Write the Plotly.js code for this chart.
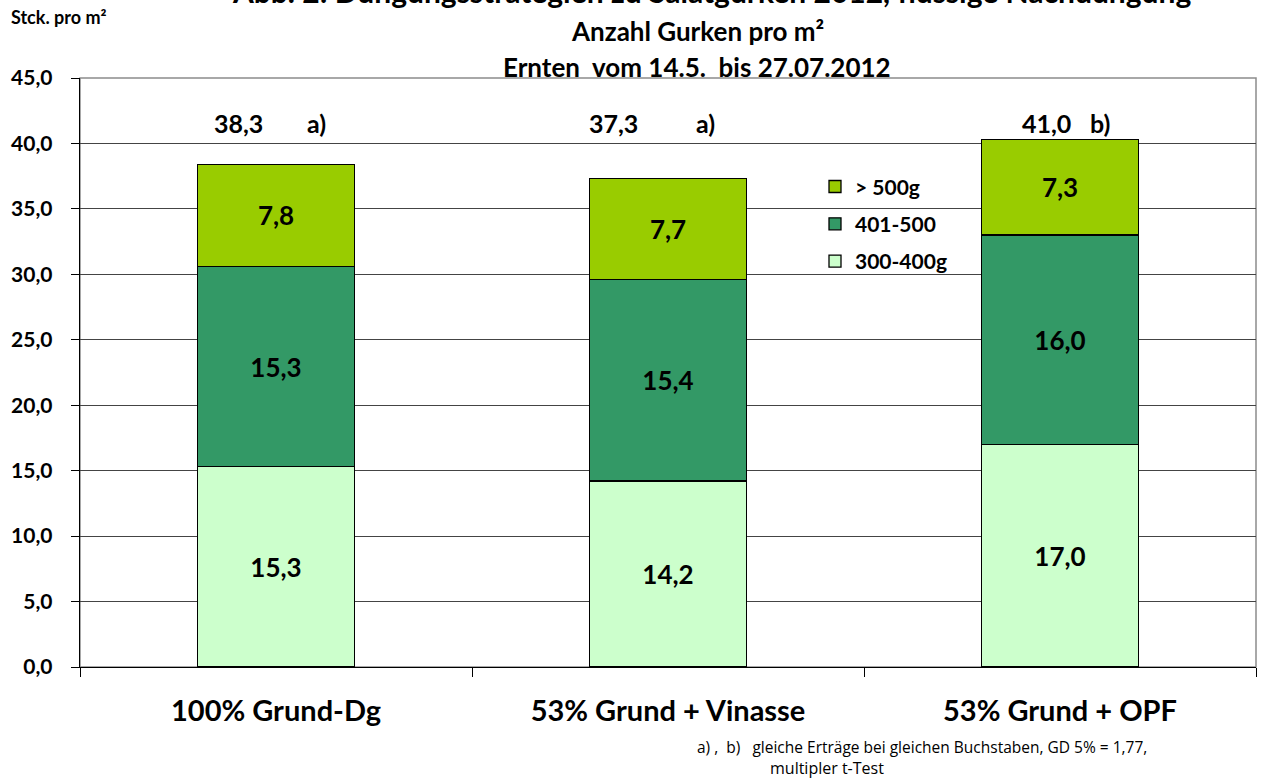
<!DOCTYPE html>
<html>
<head>
<meta charset="utf-8">
<script src="https://cdn.plot.ly/plotly-3.0.1.min.js"></script>
<style>html,body{margin:0;padding:0;background:#fff;}#chart{width:1261px;height:778px;}</style>
</head>
<body>
<div id="chart"></div>
<script>
const categories = ["100% Grund-Dg", "53% Grund + Vinasse", "53% Grund + OPF"];
const seriesNames = ["300-400g", "401-500", "> 500g"];
const small = [15.3, 14.2, 17.0];
const medium = [15.3, 15.4, 16.0];
const large = [7.8, 7.7, 7.3];
const totals = ["38,3", "37,3", "41,0"];
const letters = ["a)", "a)", "b)"];
const yTicks = [0, 5, 10, 15, 20, 25, 30, 35, 40, 45];
const colors = ["#ccffcc", "#339966", "#99cc00"];

// label offsets (px) for the total / letter annotations
const totalShift = [-38, -55, -14];
const letterShift = [40, 37, 40];

const F = "Lato, 'Open Sans', sans-serif";
const seriesData = [small, medium, large];

const traces = seriesData.map((vals, i) => ({
  type: "bar",
  x: categories,
  y: vals,
  name: seriesNames[i],
  legendgroup: "g" + i,
  legendrank: 1000 - i,
  marker: {color: colors[i], line: {color: "#000", width: 1.3}},
  texttemplate: "<b>%{y:.1f}</b>",
  textposition: "inside",
  insidetextanchor: "middle",
  textangle: 0,
  constraintext: "none",
  insidetextfont: {family: F, size: 26, color: "#000"},
  hoverinfo: "skip"
}));

const annotations = [];
const totalY = 41.6;
categories.forEach((c, i) => {
  annotations.push({x: c, y: totalY, xref: "x", yref: "y", text: "<b>" + totals[i] + "</b>",
    showarrow: false, xshift: totalShift[i], font: {family: F, size: 25, color: "#000"}});
  annotations.push({x: c, y: totalY, xref: "x", yref: "y", text: "<b>" + letters[i] + "</b>",
    showarrow: false, xshift: letterShift[i], font: {family: F, size: 25, color: "#000"}});
});
// titles
const title1 = "Abb. 2: Düngungsstrategien zu Salatgurken 2012, flüssige Nachdüngung";
const title2 = "Anzahl Gurken pro m²";
const title3 = "Ernten  vom 14.5.  bis 27.07.2012";
annotations.push({xref: "paper", yref: "paper", x: 0.537, y: 1.147, text: "<b>" + title1 + "</b>", showarrow: false,
  font: {family: F, size: 30, color: "#000"}, yanchor: "middle"});
annotations.push({xref: "paper", yref: "paper", x: 0.525, y: 1.079, text: "<b>" + title2 + "</b>", showarrow: false,
  font: {family: F, size: 26, color: "#000"}, yanchor: "middle"});
annotations.push({xref: "paper", yref: "paper", x: 0.525, y: 1.018, text: "<b>" + title3 + "</b>", showarrow: false,
  font: {family: F, size: 26, color: "#000"}, yanchor: "middle"});
// y axis unit
annotations.push({xref: "paper", yref: "paper", x: -0.060, y: 1.104, xanchor: "left", text: "<b>Stck. pro m²</b>",
  showarrow: false, font: {family: F, size: 18, color: "#000"}, yanchor: "middle"});
// footnote
annotations.push({xref: "paper", yref: "paper", x: 0.523, y: -0.135, xanchor: "left", yanchor: "middle",
  text: "a) ,  b)   gleiche Erträge bei gleichen Buchstaben, GD 5% = 1,77,", showarrow: false,
  font: {family: "'Open Sans', sans-serif", size: 15.5, color: "#000"}});
annotations.push({xref: "paper", yref: "paper", x: 0.585, y: -0.171, xanchor: "left", yanchor: "middle",
  text: "multipler t-Test", showarrow: false,
  font: {family: "'Open Sans', sans-serif", size: 16, color: "#000"}});

const layout = {
  width: 1261, height: 778,
  margin: {l: 80, r: 5, t: 78, b: 111},
  paper_bgcolor: "#fff", plot_bgcolor: "#fff",
  barmode: "stack", bargap: 0.6,
  separators: ",.",
  showlegend: true,
  legend: {x: 0.625, y: 0.85, xanchor: "left", yanchor: "top", bgcolor: "rgba(0,0,0,0)",
    traceorder: "grouped", tracegroupgap: 7, itemwidth: 30,
    font: {family: F, size: 21, color: "#000", weight: "bold"}},
  xaxis: {type: "category", tickson: "boundaries", ticks: "outside", ticklen: 9, tickcolor: "#000",
    showline: true, linecolor: "#000", linewidth: 1.3, showgrid: false,
    tickfont: {family: F, size: 29, color: "#000", weight: "bold"}, ticklabelstandoff: 18},
  yaxis: {range: [0, 45], tickvals: yTicks, tickformat: ".1f", ticks: "outside", ticklen: 8, tickcolor: "#000",
    showline: true, linecolor: "#000", linewidth: 1.3, showgrid: true, gridcolor: "#444", gridwidth: 1,
    zeroline: false, tickfont: {family: F, size: 21, color: "#000", weight: "bold"}, ticklabelstandoff: 14},
  shapes: [{type: "rect", xref: "paper", yref: "paper", x0: 0, x1: 1, y0: 0, y1: 1,
    line: {color: "#8c8c8c", width: 1.5}, layer: "below"}],
  annotations: annotations
};

Plotly.newPlot("chart", traces, layout, {displayModeBar: false, staticPlot: true});
</script>
</body>
</html>
